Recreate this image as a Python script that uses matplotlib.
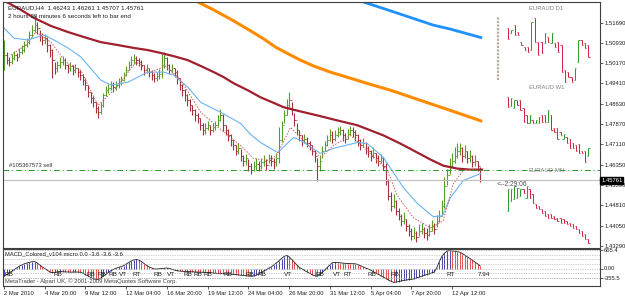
import numpy as np
import matplotlib
matplotlib.use("Agg")
import matplotlib.pyplot as plt

plt.rcParams['font.family'] = ['Liberation Sans', 'DejaVu Sans']

# --------------------------------------
# EURAUD H4 bars (price)
# --------------------------------------
closes = [1.5047, 1.5028, 1.5021, 1.5036, 1.5047, 1.5040, 1.5058, 1.5066,
          1.5085, 1.5096, 1.5123, 1.5142, 1.5160, 1.5149, 1.5123,
          1.5104, 1.5111, 1.5085, 1.5066, 1.5028,
          1.4998, 1.5009, 1.5021, 1.5028, 1.5009, 1.4998, 1.5006, 1.4990, 1.4998, 1.4983, 1.4972,
          1.4953, 1.4934, 1.4907, 1.4885, 1.4869, 1.4847, 1.4832,
          1.4858, 1.4896, 1.4915, 1.4922, 1.4934, 1.4926, 1.4934,
          1.4941, 1.4953, 1.4972, 1.4990, 1.5009, 1.5028, 1.5036, 1.5028,
          1.5021, 1.5009, 1.4990, 1.4998, 1.4983, 1.4972, 1.4960, 1.4968, 1.4975, 1.5009,
          1.5036, 1.5009, 1.4990, 1.4998, 1.4983, 1.4960,
          1.4934, 1.4915, 1.4896, 1.4877, 1.4858, 1.4839, 1.4820, 1.4809, 1.4783, 1.4764,
          1.4771, 1.4783, 1.4764, 1.4775, 1.4783, 1.4802, 1.4820, 1.4783,
          1.4764, 1.4745, 1.4726, 1.4707, 1.4688, 1.4696, 1.4669, 1.4650, 1.4658, 1.4631, 1.4613, 1.4631,
          1.4639, 1.4631, 1.4643, 1.4650, 1.4635, 1.4658, 1.4650, 1.4643, 1.4658,
          1.4726, 1.4783, 1.4820, 1.4858, 1.4877,
          1.4839, 1.4802, 1.4764, 1.4745, 1.4726,
          1.4733, 1.4718, 1.4707, 1.4688, 1.4669, 1.4631,
          1.4650, 1.4688, 1.4707, 1.4726, 1.4745,
          1.4733, 1.4745, 1.4756, 1.4764, 1.4745, 1.4733, 1.4752, 1.4764, 1.4756, 1.4745,
          1.4726, 1.4707, 1.4718, 1.4696, 1.4688, 1.4669, 1.4680, 1.4658, 1.4650, 1.4658,
          1.4631, 1.4575, 1.4518, 1.4480,
          1.4499, 1.4461, 1.4442, 1.4424, 1.4431, 1.4405, 1.4386, 1.4367,
          1.4378, 1.4363, 1.4386, 1.4393, 1.4378, 1.4371, 1.4386, 1.4405, 1.4393, 1.4424,
          1.4442, 1.4480, 1.4556,
          1.4594, 1.4631, 1.4650, 1.4669, 1.4688, 1.4696, 1.4669, 1.4688,
          1.4658, 1.4669, 1.4643, 1.4650, 1.4631, 1.45761]

highs = [1.5104, 1.5060, 1.5040, 1.5050, 1.5062, 1.5055, 1.5075, 1.5085,
         1.5100, 1.5112, 1.5138, 1.5160, 1.5198, 1.5170, 1.5140,
         1.5130, 1.5125, 1.5115, 1.5090, 1.5070,
         1.5020, 1.5025, 1.5040, 1.5045, 1.5035, 1.5015, 1.5020, 1.5010, 1.5012, 1.5000, 1.4990,
         1.4975, 1.4960, 1.4935, 1.4910, 1.4895, 1.4870, 1.4855,
         1.4870, 1.4905, 1.4930, 1.4940, 1.4950, 1.4945, 1.4950,
         1.4960, 1.4970, 1.4985, 1.5005, 1.5025, 1.5045, 1.5050, 1.5045,
         1.5035, 1.5030, 1.5010, 1.5012, 1.5000, 1.4990, 1.4978, 1.4985, 1.4995, 1.5050,
         1.5058, 1.5040, 1.5015, 1.5012, 1.5000, 1.4990,
         1.4960, 1.4940, 1.4920, 1.4900, 1.4880, 1.4860, 1.4845, 1.4830, 1.4810, 1.4790,
         1.4790, 1.4800, 1.4785, 1.4790, 1.4800, 1.4820, 1.4845, 1.4825,
         1.4785, 1.4770, 1.4750, 1.4730, 1.4710, 1.4715, 1.4695, 1.4670, 1.4675, 1.4655, 1.4640, 1.4650,
         1.4660, 1.4650, 1.4660, 1.4670, 1.4655, 1.4675, 1.4670, 1.4660, 1.4680,
         1.4775, 1.4800, 1.4840, 1.4880, 1.4907,
         1.4870, 1.4830, 1.4790, 1.4765, 1.4745,
         1.4750, 1.4740, 1.4725, 1.4710, 1.4690, 1.4660,
         1.4670, 1.4705, 1.4725, 1.4745, 1.4770,
         1.4760, 1.4765, 1.4775, 1.4780, 1.4770, 1.4755, 1.4770, 1.4780, 1.4775, 1.4765,
         1.4750, 1.4730, 1.4735, 1.4720, 1.4705, 1.4690, 1.4700, 1.4680, 1.4670, 1.4675,
         1.4665, 1.4640, 1.4580, 1.4530,
         1.4525, 1.4500, 1.4470, 1.4450, 1.4455, 1.4430, 1.4410, 1.4395,
         1.4400, 1.4385, 1.4410, 1.4415, 1.4400, 1.4395, 1.4410, 1.4425, 1.4415, 1.4445,
         1.4465, 1.4500, 1.4590,
         1.4620, 1.4660, 1.4680, 1.4700, 1.4715, 1.4715, 1.4700, 1.4710,
         1.4685, 1.4690, 1.4670, 1.4672, 1.4650, 1.46261]

lows = [1.4990, 1.5015, 1.5005, 1.5015, 1.5030, 1.5025, 1.5040, 1.5050,
        1.5060, 1.5078, 1.5090, 1.5115, 1.5135, 1.5128, 1.5100,
        1.5085, 1.5090, 1.5060, 1.5040, 1.4960,
        1.4975, 1.4985, 1.5000, 1.5008, 1.4995, 1.4980, 1.4988, 1.4972, 1.4980, 1.4965, 1.4955,
        1.4935, 1.4915, 1.4890, 1.4865, 1.4850, 1.4830, 1.4810,
        1.4825, 1.4850, 1.4895, 1.4905, 1.4915, 1.4910, 1.4915,
        1.4925, 1.4935, 1.4950, 1.4970, 1.4990, 1.5005, 1.5015, 1.5010,
        1.5005, 1.4990, 1.4972, 1.4980, 1.4965, 1.4955, 1.4945, 1.4950, 1.4958, 1.4960,
        1.5000, 1.4990, 1.4975, 1.4980, 1.4965, 1.4940,
        1.4915, 1.4895, 1.4875, 1.4855, 1.4835, 1.4820, 1.4800, 1.4790, 1.4765, 1.4745,
        1.4750, 1.4765, 1.4745, 1.4758, 1.4765, 1.4780, 1.4800, 1.4760,
        1.4745, 1.4725, 1.4705, 1.4690, 1.4670, 1.4675, 1.4650, 1.4630, 1.4635, 1.4610, 1.4600, 1.4610,
        1.4615, 1.4610, 1.4620, 1.4630, 1.4615, 1.4640, 1.4630, 1.4620, 1.4630,
        1.4640, 1.4720, 1.4790, 1.4820, 1.4845,
        1.4820, 1.4780, 1.4745, 1.4725, 1.4705,
        1.4715, 1.4700, 1.4690, 1.4670, 1.4645, 1.4575,
        1.4610, 1.4660, 1.4685, 1.4705, 1.4725,
        1.4715, 1.4725, 1.4738, 1.4745, 1.4725, 1.4715, 1.4730, 1.4745, 1.4738, 1.4725,
        1.4705, 1.4690, 1.4700, 1.4675, 1.4665, 1.4650, 1.4660, 1.4640, 1.4630, 1.4640,
        1.4615, 1.4560, 1.4500, 1.4460,
        1.4470, 1.4445, 1.4425, 1.4405, 1.4410, 1.4385, 1.4365, 1.4350,
        1.4355, 1.4345, 1.4365, 1.4375, 1.4360, 1.4352, 1.4365, 1.4385, 1.4375, 1.4400,
        1.4420, 1.4440, 1.4470,
        1.4560, 1.4600, 1.4625, 1.4640, 1.4660, 1.4670, 1.4645, 1.4660,
        1.4640, 1.4645, 1.4625, 1.4630, 1.4610, 1.45707]

# moving averages: (bar index, price)
ma_blue_x = [132.2, 141.2, 153.0, 168.6, 175.3, 187.8]
ma_blue_y = [1.5278, 1.5247, 1.5210, 1.5160, 1.5145, 1.5112]

ma_orange_x = [69.4, 74.5, 82.4, 90.2, 96.9, 102.0, 106.7, 111.8, 116.5, 121.6, 128.2, 136.1,
               143.9, 151.8, 163.5, 175.3, 187.8]
ma_orange_y = [1.5281, 1.5255, 1.5217, 1.5176, 1.5138, 1.5108, 1.5077, 1.5051, 1.5028, 1.5006,
               1.4983, 1.4960, 1.4937, 1.4915, 1.4877, 1.4839, 1.4798]

ma_red_x = [0, 1.6, 6.7, 11.8, 18.4, 25.1, 31.4, 38.0, 44.7, 51.0, 56.5, 61.6, 66.7, 72.2, 77.3,
            82.4, 86.3, 90.2, 95.7, 100.8, 105.5, 109.8, 116.5, 123.1, 131.0, 138.8, 143.9,
            149.0, 155.7, 162.4, 167.5, 172.5, 178.0, 183.1, 187.8]
ma_red_y = [1.5251, 1.5244, 1.5217, 1.5187, 1.5157, 1.5134, 1.5115, 1.5096, 1.5085, 1.5074, 1.5066,
            1.5055, 1.5043, 1.5028, 1.5006, 1.4983, 1.4964, 1.4941, 1.4915, 1.4888, 1.4869, 1.4851,
            1.4835, 1.4820, 1.4801, 1.4783, 1.4764, 1.4745, 1.4714, 1.4680, 1.4654, 1.4631, 1.4620,
            1.4616, 1.4616]

ma_sky_x = [0, 3.9, 9.4, 15.7, 19.6, 25.1, 30.2, 38.0, 42.0, 48.6, 56.5, 62.7, 66.7, 72.2, 77.3,
            85.1, 92.9, 96.9, 100.8, 107.5, 113.7, 116.5, 124.3, 129.4, 138.8, 142.7, 149.0,
            156.9, 162.4, 168.6, 172.2, 175.3, 180.4, 187.1]
ma_sky_y = [1.5149, 1.5111, 1.5104, 1.5123, 1.5104, 1.5074, 1.5040, 1.4953, 1.4934, 1.4945, 1.4983,
            1.4983, 1.4972, 1.4926, 1.4869, 1.4832, 1.4790, 1.4748, 1.4718, 1.4680, 1.4737, 1.4726,
            1.4677, 1.4696, 1.4718, 1.4714, 1.4662, 1.4548, 1.4488, 1.4439, 1.4442, 1.4510, 1.4575,
            1.4601]

ma_fast_x = [2.7, 8.6, 12.5, 18.4, 24.3, 30.2, 36.9, 43.9, 51.8, 57.6, 63.5, 69.4, 77.3, 83.1, 92.9,
             98.0, 104.7, 107.5, 112.5, 116.5, 124.3, 129.4, 136.1, 142.7, 150.6, 154.5, 160.8,
             167.5, 172.5, 176.5, 180.4, 187.1]
ma_fast_y = [1.5047, 1.5085, 1.5134, 1.5096, 1.5021, 1.4990, 1.4858, 1.4922, 1.5021, 1.4983, 1.5006,
             1.4953, 1.4832, 1.4783, 1.4707, 1.4658, 1.4650, 1.4677, 1.4775, 1.4737, 1.4662, 1.4707,
             1.4745, 1.4688, 1.4613, 1.4518, 1.4435, 1.4397, 1.4424, 1.4563, 1.4613, 1.4620]

# mini charts of other timeframes drawn by an indicator
d1_highs = [1.5149, 1.5142, 1.5160, 1.5134, 1.5096, 1.5077, 1.5077, 1.5172, 1.5187, 1.5096, 1.5096,
            1.5130, 1.5115, 1.5130, 1.5092, 1.5096, 1.5085, 1.4990, 1.4983, 1.4964, 1.4998, 1.5104,
            1.5104, 1.5092, 1.5085]
d1_lows = [1.5108, 1.5130, 1.5123, 1.5123, 1.5085, 1.5066, 1.5058, 1.5066, 1.5096, 1.5047, 1.5055,
           1.5092, 1.5096, 1.5092, 1.5077, 1.5058, 1.4983, 1.4945, 1.4964, 1.4945, 1.4953, 1.5021,
           1.5085, 1.5074, 1.5040]
d1_up = [0, 1, 0, 0, 0, 0, 0, 1, 0, 0, 0, 1, 0, 1, 0, 0, 0, 0, 0, 0, 1, 1, 0, 0, 0]

w1_highs = [1.4888, 1.4885, 1.4877, 1.4877, 1.4877, 1.4847, 1.4820, 1.4820, 1.4802, 1.4802, 1.4813,
            1.4820, 1.4820, 1.4839, 1.4820, 1.4771, 1.4771, 1.4756, 1.4752, 1.4737, 1.4733, 1.4718,
            1.4707, 1.4714, 1.4688, 1.4688, 1.4696]
w1_lows = [1.4851, 1.4855, 1.4847, 1.4858, 1.4839, 1.4794, 1.4790, 1.4790, 1.4790, 1.4790, 1.4790,
           1.4794, 1.4794, 1.4794, 1.4764, 1.4756, 1.4733, 1.4745, 1.4733, 1.4718, 1.4696, 1.4696,
           1.4688, 1.4677, 1.4677, 1.4643, 1.4669]
w1_up = [0, 1, 1, 0, 0, 0, 0, 1, 0, 1, 1, 0, 0, 1, 0, 0, 0, 0, 1, 0, 0, 0, 0, 0, 0, 0, 1]

mn_highs = [1.4544, 1.4544, 1.4556, 1.4548, 1.4544, 1.4544, 1.4556, 1.4544, 1.4525, 1.4488, 1.4480,
            1.4469, 1.4461, 1.4450, 1.4450, 1.4442, 1.4435, 1.4435, 1.4431, 1.4424, 1.4416, 1.4412,
            1.4405, 1.4393, 1.4386, 1.4374, 1.4355]
mn_lows = [1.4461, 1.4499, 1.4507, 1.4510, 1.4518, 1.4529, 1.4510, 1.4510, 1.4491, 1.4473, 1.4469,
           1.4454, 1.4442, 1.4435, 1.4435, 1.4431, 1.4424, 1.4416, 1.4416, 1.4412, 1.4405, 1.4397,
           1.4393, 1.4378, 1.4367, 1.4355, 1.4340]
mn_up = [1, 1, 1, 1, 1, 0, 1, 0, 0, 0, 0, 0, 0, 0, 0, 0, 0, 0, 0, 0, 0, 0, 0, 0, 0, 0, 0]

# MACD_Colored histogram values per bar
macd = [-280, -220, -160, -100, -40, 20, 80, 130, 170, 200, 225, 245, 250,
        200, 130, 60, 0, -60, -130,
        -150, -140, -120, -110, -115, -120, -125, -130, -130, -125, -130, -135,
        -170, -220, -270, -320, -360, -385, -390,
        -340, -280, -210, -140, -80, -30, 10, 40, 70, 100,
        160, 220, 270, 310, 325, 300,
        250, 180, 110, 60, 20, -15,
        -20, -10, 0, 10, 20,
        0, -30, -60, -80, -90,
        -100, -105, -110, -115, -120, -125, -128, -130,
        -135, -140, -145, -150, -160, -170, -175, -180, -185, -190, -195, -200,
        -210, -220, -230, -240, -250, -260, -270, -280,
        -270, -240, -200, -150, -90, -40, 10, 60,
        130, 200, 280, 360, 430, 475,
        420, 330, 230, 130, 40, -15,
        -70, -120, -170, -220, -260, -280,
        -220, -140, -50, 40, 130, 210,
        220, 215, 205, 195, 185, 180, 175, 172, 170,
        140, 100, 60, 20, -15,
        -60, -110, -160, -210, -260, -310, -360, -410, -460, -500,
        -490, -470, -450, -430, -415, -400, -390,
        -370, -340, -310, -280, -250, -220, -190, -160, -130,
        30, 250, 440, 550, 630,
        640, 630, 620, 605, 590,
        540, 480, 420, 360, 300, 230, 170, 100]

macd_marks = [(0, "RB"), (19.6, "RB"), (32.5, "RB"), (36.9, "RB"), (41.2, "RB"), (45, "VT"),
              (50.6, "RT"), (58.8, "RB"), (64, "VT"), (70.6, "RB"), (74.5, "RB"), (78.4, "RB"),
              (86.3, "RB"), (94.9, "RB"), (99.6, "RB"), (109.8, "VT"), (122.4, "RB"), (129.4, "VT"),
              (133.3, "RT"), (142.7, "RB"), (151.8, "RB"), (173.7, "RT"), (185.9, "7.94")]

price_ticks = [1.51690, 1.50930, 1.50170, 1.49410, 1.48630, 1.47870, 1.47110, 1.46350,
               1.45590, 1.44810, 1.44050, 1.43290]
macd_levels = [665.4, 500, 335, 168, 0, -168, -335, -355.5]
macd_ticks = [665.4, 0, -355.5]
date_ticks = [0, 16, 32, 48, 64, 80, 96, 112, 128, 144, 160, 176]
date_labels = ["2 Mar 2010", "4 Mar 20:00", "9 Mar 12:00", "12 Mar 04:00", "16 Mar 20:00",
               "19 Mar 12:00", "24 Mar 04:00", "26 Mar 20:00", "31 Mar 12:00", "5 Apr 04:00",
               "7 Apr 20:00", "12 Apr 12:00"]

sell_price = 1.4613
bid = 1.45761

# --------------------------------------
# Figure
# --------------------------------------
W, H = 625, 297
fig = plt.figure(figsize=(W / 100, H / 100), dpi=100)
fig.patch.set_facecolor("white")
ax = fig.add_axes([3 / W, 1 - 248 / H, 597 / W, 246 / H])
sub = fig.add_axes([3 / W, 1 - 286 / H, 597 / W, 37 / H])

xlim = (-0.4, 234.1)
fs = 4.2
up_col, dn_col = "#5a9e2a", "#a8303a"

# bars
x = np.arange(len(closes))
opens = np.array([closes[0]] + closes[:-1])
cl = np.array(closes)
cols = [up_col if c >= o else dn_col for o, c in zip(opens, cl)]
ax.vlines(x, lows, highs, colors=cols, lw=0.8)
ax.hlines(opens, x - 0.5, x, colors=cols, lw=0.6)
ax.hlines(cl, x, x + 0.5, colors=cols, lw=0.6)

# moving averages
ax.plot(ma_blue_x, ma_blue_y, color="#1e90ff", lw=2.0, solid_capstyle="butt")
ax.plot(ma_orange_x, ma_orange_y, color="#ff8c00", lw=2.2, solid_capstyle="butt")
ax.plot(ma_red_x, ma_red_y, color="#a0202e", lw=1.6, solid_joinstyle="round")
ax.plot(ma_sky_x, ma_sky_y, color="#6cb4f0", lw=0.8)
ax.plot(ma_fast_x, ma_fast_y, color="#d06060", lw=0.7, ls=(0, (1.5, 1.5)))

# order line and bid line
ax.axhline(sell_price, color="#2a9a2a", lw=0.7, ls=(0, (6, 3, 1, 3)))
ax.axhline(bid, color="#c0c0c0", lw=0.8)
ax.text(2, sell_price + 0.0009, "#105367573 sell", fontsize=fs, color="#303030", va="bottom")

# mini charts
def mini(xs_from, xs_to, hi, lo, up):
    xs = np.linspace(xs_from, xs_to, len(hi))
    c = ["#2a9a2a" if u else "#d02040" for u in up]
    ax.vlines(xs, lo, hi, colors=c, lw=0.7)
    o = [l if u else h for h, l, u in zip(hi, lo, up)]
    e = [h if u else l for h, l, u in zip(hi, lo, up)]
    ax.hlines(o, xs - 0.5, xs, colors=c, lw=0.6)
    ax.hlines(e, xs, xs + 0.5, colors=c, lw=0.6)

mini(198, 229.5, d1_highs, d1_lows, d1_up)
mini(198, 229.5, w1_highs, w1_lows, w1_up)
mini(198, 229.5, mn_highs, mn_lows, mn_up)
ax.vlines(194.2, 1.4953, 1.5190, colors="#b8aca0", lw=1.6, ls=(0, (1, 0.6)))
ax.text(213, 1.5218, "EURAUD D1", fontsize=fs, color="#808080", ha="center")
ax.text(213, 1.4918, "EURAUD W1", fontsize=fs, color="#808080", ha="center")
ax.text(213, 1.4607, "EURAUD-MN", fontsize=fs, color="#808080", ha="center")
ax.text(193.5, 1.4555, "<--2:29:06", fontsize=fs + 0.6, color="#505050")

ax.set_xlim(*xlim)
ax.set_ylim(1.4321, 1.5247)
ax.yaxis.tick_right()
ax.set_yticks(price_ticks)
ax.set_yticklabels([f"{p:.5f}" for p in price_ticks])
ax.tick_params(axis="y", labelsize=fs, length=2, width=0.5, pad=1, colors="#202020")
ax.set_xticks([])
for s in ax.spines.values():
    s.set_linewidth(0.8)
    s.set_color("#404040")
ax.text(1.002, bid, "1.45761", transform=ax.get_yaxis_transform(), fontsize=fs, color="white",
        va="center", ha="left", bbox=dict(boxstyle="square,pad=0.15", fc="black", ec="black"))

ax.text(5 / 597, 1 - 6 / 246, "EURAUD,H4  1.46243 1.46261 1.45707 1.45761", transform=ax.transAxes,
        fontsize=fs + 0.3, color="#202020", va="center")
ax.text(5 / 597, 1 - 14 / 246, "2 hours 29 minutes 6 seconds left to bar end", transform=ax.transAxes,
        fontsize=fs + 0.3, color="#202020", va="center")

# MACD sub-window
m = np.array(macd)
rising = np.diff(m, prepend=m[0]) >= 0
hcols = ["#2828a0" if r else "#e03030" for r in rising]
sub.vlines(x, 0, m, colors=hcols, lw=0.6)
sub.plot(x, m, color="#202020", lw=0.6)
for lv in macd_levels:
    sub.axhline(lv, color="#a0a0a0", lw=0.5, ls=(0, (1, 1.5)))
for bx, t in macd_marks:
    sub.text(bx, -210, t, fontsize=fs + 0.4, color="#202020", va="center")
sub.text(2 / 597, 0.86, "MACD_Colored_v104 micro 0.0 -3.6 -3.6 -3.6", transform=sub.transAxes,
         fontsize=fs, color="#202020", va="center")
sub.text(2 / 597, 0.12, "MetaTrader - Alpari UK, \u00a9 2001-2009 MetaQuotes Software Corp.",
         transform=sub.transAxes, fontsize=fs, color="#404040", va="center")
sub.set_xlim(*xlim)
sub.set_ylim(-630, 702)
sub.yaxis.tick_right()
sub.set_yticks(macd_ticks)
sub.set_yticklabels(["665.4", "0.00", "-355.5"])
sub.tick_params(axis="y", labelsize=fs, length=2, width=0.5, pad=1, colors="#202020")
sub.set_xticks(date_ticks)
sub.set_xticklabels(date_labels, ha="left")
sub.tick_params(axis="x", labelsize=fs, length=2, width=0.5, pad=1.5, colors="#202020")
for s in sub.spines.values():
    s.set_linewidth(0.8)
    s.set_color("#404040")

fig.savefig("out.png", dpi=100)
